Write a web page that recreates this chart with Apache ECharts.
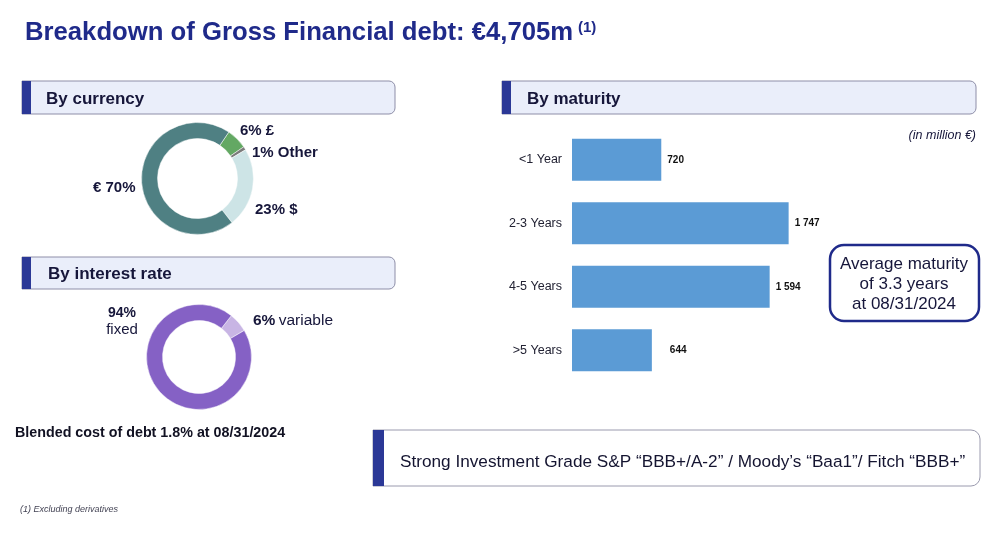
<!DOCTYPE html>
<html>
<head>
<meta charset="utf-8">
<script src="https://cdn.jsdelivr.net/npm/echarts@6/dist/echarts.min.js"></script>
<style>
html,body{margin:0;padding:0;background:#fff;}
#chart{width:1000px;height:533px;}
</style>
</head>
<body>
<div id="chart"></div>
<script>
// ---- Data ----
var currencyNames = ['£', 'Other', '$', '€'];
var currencyValues = [6, 1, 23, 70];
var rateNames = ['variable', 'fixed'];
var rateValues = [6, 94];
var maturityCategories = ['<1 Year', '2-3 Years', '4-5 Years', '>5 Years'];
var maturityValues = [720, 1747, 1594, 644];
var totalDebt = '€4,705m';
var avgMaturity = 3.3;
var blendedCost = 1.8;
var asOfDate = '08/31/2024';

// ---- Styling ----
var FONT = "'Liberation Sans', Arial, Helvetica, sans-serif";
var NAVY = '#1f2a8a';
var BAR_NAVY = '#2b3896';
var DARK = '#16163a';
var currencyColors = ['#63a863', '#7b7b7b', '#cde4e6', '#4f8083'];
var rateColors = ['#c8b5e4', '#8561c5'];

function fmtSpace(v) {
  return String(v).replace(/\B(?=(\d{3})+(?!\d))/g, ' ');
}

function header(x, y, w, h, label, textX) {
  return [
    { type: 'rect', shape: { x: x, y: y, width: w, height: h, r: [0, 6, 6, 0] },
      style: { fill: '#eaeefa', stroke: '#8e8ea8', lineWidth: 1 } },
    { type: 'rect', shape: { x: x, y: y, width: 9, height: h },
      style: { fill: BAR_NAVY } },
    { type: 'text', x: textX, y: y + h / 2 + 1.5, style: { text: label, font: 'bold 17px ' + FONT, fill: DARK, textVerticalAlign: 'middle' } }
  ];
}

var chart = echarts.init(document.getElementById('chart'), null, { renderer: 'canvas' });

var graphics = [];
// Title
graphics.push({ type: 'text', x: 25, y: 33, style: { text: 'Breakdown of Gross Financial debt: ' + totalDebt, font: 'bold 25.7px ' + FONT, fill: NAVY, textVerticalAlign: 'middle' } });
graphics.push({ type: 'text', x: 578, y: 28, style: { text: '(1)', font: 'bold 15px ' + FONT, fill: NAVY, textVerticalAlign: 'middle' } });

graphics = graphics.concat(header(22, 81, 373, 33, 'By currency', 46));
graphics = graphics.concat(header(22, 257, 373, 32, 'By interest rate', 48));
graphics = graphics.concat(header(502, 81, 474, 33, 'By maturity', 527));

// Currency labels
graphics.push({ type: 'text', x: 240, y: 131, style: { text: currencyValues[0] + '% ' + currencyNames[0], font: 'bold 15px ' + FONT, fill: DARK, textVerticalAlign: 'middle' } });
graphics.push({ type: 'text', x: 252, y: 153, style: { text: currencyValues[1] + '% ' + currencyNames[1], font: 'bold 15px ' + FONT, fill: DARK, textVerticalAlign: 'middle' } });
graphics.push({ type: 'text', x: 93, y: 188, style: { text: currencyNames[3] + ' ' + currencyValues[3] + '%', font: 'bold 15px ' + FONT, fill: DARK, textVerticalAlign: 'middle' } });
graphics.push({ type: 'text', x: 255, y: 210, style: { text: currencyValues[2] + '% ' + currencyNames[2], font: 'bold 15px ' + FONT, fill: DARK, textVerticalAlign: 'middle' } });

// Interest labels
graphics.push({ type: 'text', x: 122, y: 313, style: { text: rateValues[1] + '%', font: 'bold 14px ' + FONT, fill: DARK, textAlign: 'center', textVerticalAlign: 'middle' } });
graphics.push({ type: 'text', x: 122, y: 330, style: { text: rateNames[1], font: '15px ' + FONT, fill: DARK, textAlign: 'center', textVerticalAlign: 'middle' } });
graphics.push({ type: 'text', x: 253, y: 321, style: {
  text: '{b|' + rateValues[0] + '%} {r|' + rateNames[0] + '}',
  rich: { b: { font: 'bold 15.5px ' + FONT, fill: DARK }, r: { font: '15.5px ' + FONT, fill: DARK } },
  textVerticalAlign: 'middle' } });

graphics.push({ type: 'text', x: 15, y: 433, style: { text: 'Blended cost of debt ' + blendedCost + '% at ' + asOfDate, font: 'bold 14.3px ' + FONT, fill: '#111122', textVerticalAlign: 'middle' } });

// Maturity unit
graphics.push({ type: 'text', x: 976, y: 136, style: { text: '(in million €)', font: 'italic 12.5px ' + FONT, fill: DARK, textAlign: 'right', textVerticalAlign: 'middle' } });

// Average maturity box
graphics.push({ type: 'rect', shape: { x: 830, y: 245, width: 149, height: 76, r: 14 }, style: { fill: '#fff', stroke: NAVY, lineWidth: 2.5 } });
graphics.push({ type: 'text', x: 904, y: 284, style: {
  text: 'Average maturity\nof ' + avgMaturity + ' years\nat ' + asOfDate,
  font: '17px ' + FONT, fill: DARK, textAlign: 'center', textVerticalAlign: 'middle', lineHeight: 20 } });

// Ratings box
graphics.push({ type: 'rect', shape: { x: 373, y: 430, width: 607, height: 56, r: [0, 9, 9, 0] }, style: { fill: '#fff', stroke: '#9a9aae', lineWidth: 1 } });
graphics.push({ type: 'rect', shape: { x: 373, y: 430, width: 11, height: 56 }, style: { fill: BAR_NAVY } });
graphics.push({ type: 'text', x: 400, y: 462, style: { text: 'Strong Investment Grade S&P “BBB+/A-2” / Moody’s “Baa1”/ Fitch “BBB+”', font: '17.2px ' + FONT, fill: '#141430', textVerticalAlign: 'middle' } });

// Footnote
graphics.push({ type: 'text', x: 20, y: 509, style: { text: '(1) Excluding derivatives', font: 'italic 9px ' + FONT, fill: '#444455', textVerticalAlign: 'middle' } });

var option = {
  animation: false,
  backgroundColor: '#ffffff',
  textStyle: { fontFamily: FONT },
  grid: { left: 572, top: 128, width: 248, height: 254, containLabel: false },
  xAxis: { type: 'value', min: 0, max: 2000, show: false, splitLine: { show: false } },
  yAxis: {
    type: 'category', inverse: true, data: maturityCategories,
    axisLine: { show: false }, axisTick: { show: false },
    axisLabel: { margin: 10, fontSize: 12.5, color: '#222233', fontFamily: FONT }
  },
  series: [
    {
      type: 'pie', center: [197.5, 178.5], radius: [40, 56], startAngle: 56, clockwise: true,
      label: { show: false }, labelLine: { show: false }, silent: true,
      itemStyle: { borderColor: '#fff', borderWidth: 0.5 },
      data: currencyNames.map(function (n, i) { return { name: n, value: currencyValues[i], itemStyle: { color: currencyColors[i] } }; })
    },
    {
      type: 'pie', center: [199, 357], radius: [36.5, 52.5], startAngle: 52, clockwise: true,
      label: { show: false }, labelLine: { show: false }, silent: true,
      itemStyle: { borderColor: '#fff', borderWidth: 0.5 },
      data: rateNames.map(function (n, i) { return { name: n, value: rateValues[i], itemStyle: { color: rateColors[i] } }; })
    },
    {
      type: 'bar', barWidth: 42,
      itemStyle: { color: '#5b9bd5' },
      label: { show: true, position: 'right', distance: 6, fontSize: 10, fontWeight: 'bold', color: '#111', fontFamily: FONT,
        formatter: function (p) { return fmtSpace(p.value); } },
      data: maturityValues.map(function (v, i) {
        return i === maturityValues.length - 1 ? { value: v, label: { distance: 18 } } : v;
      })
    }
  ],
  graphic: { elements: graphics }
};
chart.setOption(option);
</script>
</body>
</html>
